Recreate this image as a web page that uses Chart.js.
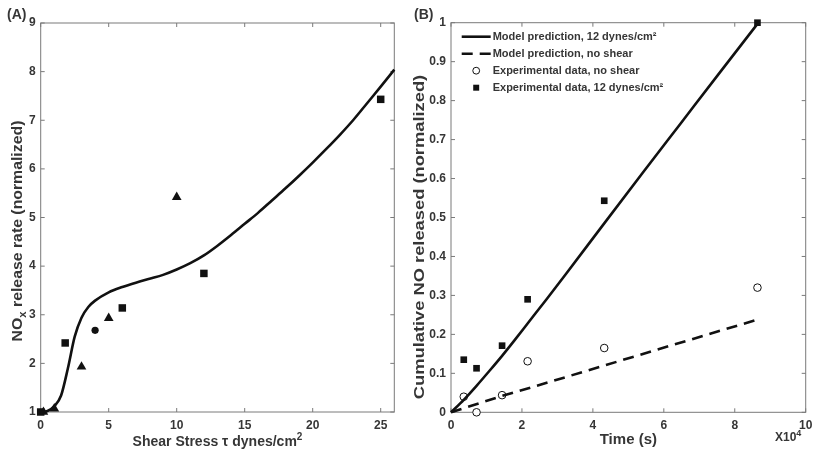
<!DOCTYPE html>
<html>
<head>
<meta charset="utf-8">
<script src="https://cdn.jsdelivr.net/npm/chart.js@4.4.1/dist/chart.umd.min.js"></script>
<style>
  html, body { margin: 0; padding: 0; background: #fff; }
  #wrap { position: relative; width: 830px; height: 460px; overflow: hidden; }
  .panel { position: absolute; top: 0; height: 460px; }
</style>
</head>
<body>
<div id="wrap">
  <div class="panel" style="left:0;width:405px"><canvas id="chartA"></canvas></div>
  <div class="panel" style="left:405px;width:425px"><canvas id="chartB"></canvas></div>
</div>
<script>
// ---- Panel A: NOx release rate vs shear stress ----
const shearModelX = [0, 0.5, 1, 1.5, 2, 2.5, 3, 3.5, 4, 5, 6, 7, 8, 9, 10, 11, 12, 13, 14, 15, 16, 17, 18, 19, 20, 21, 22, 23, 24, 25, 26];
const shearModelY = [1.0, 1.02, 1.12, 1.34, 1.9, 2.55, 2.94, 3.16, 3.29, 3.46, 3.57, 3.66, 3.74, 3.82, 3.93, 4.06, 4.22, 4.42, 4.64, 4.87, 5.1, 5.35, 5.6, 5.86, 6.13, 6.41, 6.7, 7.01, 7.35, 7.69, 8.04];
const squaresX = [0, 1.8, 6, 12, 25];
const squaresY = [1.0, 2.42, 3.14, 3.85, 7.43];
const trianglesX = [0.2, 1, 3, 5, 10];
const trianglesY = [1.0, 1.07, 1.93, 2.93, 5.42];
const circlesX = [4];
const circlesY = [2.68];
const shearTicks = [0, 5, 10, 15, 20, 25];
const rateTicks = [1, 2, 3, 4, 5, 6, 7, 8, 9];

// ---- Panel B: cumulative NO released vs time (s) ----
const modelTime = [0, 3600, 7200, 10800, 14400, 18000, 21600, 27000, 32400, 43200, 54000, 64800, 75600, 86400];
const model12 = [0, 0.032, 0.068, 0.106, 0.145, 0.186, 0.228, 0.291, 0.355, 0.485, 0.614, 0.742, 0.87, 0.997];
const modelTimeNoShear = [0, 14400, 21600, 43200, 86400];
const modelNoShear = [0, 0.042, 0.061, 0.12, 0.238];
const expTime = [3600, 7200, 14400, 21600, 43200, 86400];
const expNoShear = [0.04, 0, 0.044, 0.131, 0.165, 0.32];
const exp12 = [0.135, 0.113, 0.171, 0.29, 0.543, 1.0];
const timeTicks = [0, 20000, 40000, 60000, 80000, 100000];
const releasedTicks = [0, 0.1, 0.2, 0.3, 0.4, 0.5, 0.6, 0.7, 0.8, 0.9, 1];

const FONT = '"Liberation Sans", Arial, Helvetica, sans-serif';
const TXT = '#363636';
const AXIS = '#7a7a7a';

const pts = (xs, ys) => xs.map((x, i) => ({ x: x, y: ys[i] }));

// box around the plot with MATLAB style inward ticks
const frame = {
  id: 'frame',
  beforeDatasetsDraw(chart) {
    const { ctx, chartArea: a, scales } = chart;
    ctx.save();
    ctx.strokeStyle = AXIS;
    ctx.lineWidth = 1;
    ctx.strokeRect(a.left, a.top, a.right - a.left, a.bottom - a.top);
    ctx.beginPath();
    scales.x.ticks.forEach(t => {
      const px = scales.x.getPixelForValue(t.value);
      ctx.moveTo(px, a.bottom); ctx.lineTo(px, a.bottom - 4);
      ctx.moveTo(px, a.top); ctx.lineTo(px, a.top + 4);
    });
    scales.y.ticks.forEach(t => {
      const py = scales.y.getPixelForValue(t.value);
      ctx.moveTo(a.left, py); ctx.lineTo(a.left + 4, py);
      ctx.moveTo(a.right, py); ctx.lineTo(a.right - 4, py);
    });
    ctx.stroke();
    ctx.restore();
  }
};

// text with sub/superscript pieces
function drawRich(ctx, parts, x, y, px, align) {
  const fontFor = p => 'bold ' + ((p.sub || p.sup) ? Math.round(px * 0.72) : px) + 'px ' + FONT;
  let total = 0;
  parts.forEach(p => { ctx.font = fontFor(p); total += ctx.measureText(p.t).width; });
  let cx = align === 'center' ? x - total / 2 : x;
  parts.forEach(p => {
    ctx.font = fontFor(p);
    const dy = p.sub ? px * 0.32 : (p.sup ? -px * 0.42 : 0);
    ctx.fillText(p.t, cx, y + dy);
    cx += ctx.measureText(p.t).width;
  });
}

const titles = {
  id: 'titles',
  afterDraw(chart, args, o) {
    const { ctx, chartArea: a } = chart;
    ctx.save();
    ctx.fillStyle = TXT;
    ctx.textBaseline = 'alphabetic';
    ctx.textAlign = 'left';
    // x title
    drawRich(ctx, o.xTitle, (a.left + a.right) / 2, o.xTitleY, o.xSize, 'center');
    // y title (rotated)
    ctx.save();
    ctx.translate(o.yTitleX, o.yTitleY);
    ctx.rotate(-Math.PI / 2);
    ctx.scale(o.yStretch, 1);
    drawRich(ctx, o.yTitle, 0, 0, o.ySize, 'center');
    ctx.restore();
    // panel letter
    drawRich(ctx, [{ t: o.panel }], o.panelX, 19, 14, 'left');
    if (o.exponent) {
      drawRich(ctx, [{ t: 'X10' }, { t: '4', sup: true }], o.exponent[0], o.exponent[1], 12, 'left');
    }
    ctx.restore();
  }
};

const legendB = {
  id: 'legendB',
  afterDraw(chart, args, o) {
    const { ctx, chartArea: a } = chart;
    chart.data.datasets.forEach((ds, i) => {
      const y = a.top + o.firstRow + i * o.rowGap;
      const x0 = a.left + o.lineStart, x1 = x0 + o.lineLen;
      ctx.save();
      if (ds.showLine) {
        ctx.strokeStyle = ds.borderColor;
        ctx.lineWidth = ds.borderWidth;
        ctx.setLineDash(ds.borderDash || []);
        ctx.beginPath(); ctx.moveTo(x0, y); ctx.lineTo(x1, y); ctx.stroke();
      } else {
        ctx.fillStyle = ds.pointBackgroundColor;
        ctx.strokeStyle = ds.pointBorderColor;
        Chart.helpers.drawPoint(ctx, {
          pointStyle: ds.pointStyle, rotation: 0,
          radius: ds.pointRadius * 0.9, borderWidth: ds.pointBorderWidth
        }, (x0 + x1) / 2, y);
      }
      ctx.fillStyle = TXT;
      ctx.font = 'bold 11px ' + FONT;
      ctx.textBaseline = 'middle';
      ctx.fillText(ds.label, x1 + 2, y);
      ctx.restore();
    });
  }
};

function axisOpts(min, max, tickVals, fmt, isY) {
  return {
    type: 'linear', min: min, max: max,
    grid: { display: false, drawTicks: false },
    border: { display: false },
    afterBuildTicks: s => { s.ticks = tickVals.map(v => ({ value: v })); },
    afterFit: s => { if (isY) s.width = isY; },
    ticks: {
      color: TXT, padding: isY ? 5 : 6,
      font: { family: FONT, size: 12, weight: 'bold' },
      callback: fmt || (v => v)
    }
  };
}

// ---------- chart A ----------
new Chart(document.getElementById('chartA'), {
  type: 'scatter',
  data: {
    datasets: [
      { label: 'Model', data: pts(shearModelX, shearModelY), showLine: true, borderColor: '#111',
        borderWidth: 2.6, pointRadius: 0, cubicInterpolationMode: 'monotone', clip: false },
      { label: 'Squares', data: pts(squaresX, squaresY), pointStyle: 'rect', pointRadius: 5.3,
        pointBackgroundColor: '#111', pointBorderWidth: 0, clip: false },
      { label: 'Triangles', data: pts(trianglesX, trianglesY), pointStyle: 'triangle', pointRadius: 5.6,
        pointBackgroundColor: '#111', pointBorderWidth: 0, clip: false },
      { label: 'Circles', data: pts(circlesX, circlesY), pointStyle: 'circle', pointRadius: 3.6,
        pointBackgroundColor: '#111', pointBorderWidth: 0, clip: false }
    ]
  },
  options: {
    responsive: true, maintainAspectRatio: false, animation: false,
    layout: { padding: { left: 0, right: 10.7, top: 23, bottom: 0 } },
    scales: {
      x: Object.assign(axisOpts(0, 26, shearTicks), { afterFit: s => { s.height = 48; } }),
      y: axisOpts(1, 9, rateTicks, null, 40.7)
    },
    plugins: {
      legend: { display: false }, tooltip: { enabled: false },
      titles: {
        xTitle: [{ t: 'Shear Stress \u03c4 dynes/cm' }, { t: '2', sup: true }], xTitleY: 446, xSize: 14,
        yTitle: [{ t: 'NO' }, { t: 'x', sub: true }, { t: ' release rate (normalized)' }],
        yTitleX: 21.5, yTitleY: 231, ySize: 14, yStretch: 1.13,
        panel: '(A)', panelX: 7
      }
    }
  },
  plugins: [frame, titles]
});

// ---------- chart B ----------
new Chart(document.getElementById('chartB'), {
  type: 'scatter',
  data: {
    datasets: [
      { label: 'Model prediction, 12 dynes/cm\u00b2', data: pts(modelTime, model12), showLine: true,
        borderColor: '#111', borderWidth: 2.6, pointRadius: 0, cubicInterpolationMode: 'monotone', clip: false },
      { label: 'Model prediction, no shear', data: pts(modelTimeNoShear, modelNoShear), showLine: true,
        borderColor: '#111', borderWidth: 2.6, borderDash: [11, 7], pointRadius: 0, clip: false },
      { label: 'Experimental data, no shear', data: pts(expTime, expNoShear), pointStyle: 'circle',
        pointRadius: 3.8, pointBackgroundColor: '#fff', pointBorderColor: '#111', pointBorderWidth: 1, clip: false },
      { label: 'Experimental data, 12 dynes/cm\u00b2', data: pts(expTime, exp12), pointStyle: 'rect',
        pointRadius: 4.7, pointBackgroundColor: '#111', pointBorderColor: '#111', pointBorderWidth: 0, clip: false }
    ]
  },
  options: {
    responsive: true, maintainAspectRatio: false, animation: false,
    layout: { padding: { left: 0, right: 425 - 400.7, top: 22.7, bottom: 0 } },
    scales: {
      x: Object.assign(axisOpts(0, 100000, timeTicks, v => v / 10000), { afterFit: s => { s.height = 47.7; } }),
      y: axisOpts(0, 1, releasedTicks, null, 46)
    },
    plugins: {
      legend: { display: false }, tooltip: { enabled: false },
      legendB: { firstRow: 14, rowGap: 17, lineStart: 10.7, lineLen: 29 },
      titles: {
        xTitle: [{ t: 'Time (s)' }], xTitleY: 443.5, xSize: 15,
        yTitle: [{ t: 'Cumulative NO released (normalized)' }],
        yTitleX: 18.5, yTitleY: 237, ySize: 15, yStretch: 1.22,
        panel: '(B)', panelX: 9, exponent: [370, 441]
      }
    }
  },
  plugins: [frame, titles, legendB]
});
</script>
</body>
</html>
